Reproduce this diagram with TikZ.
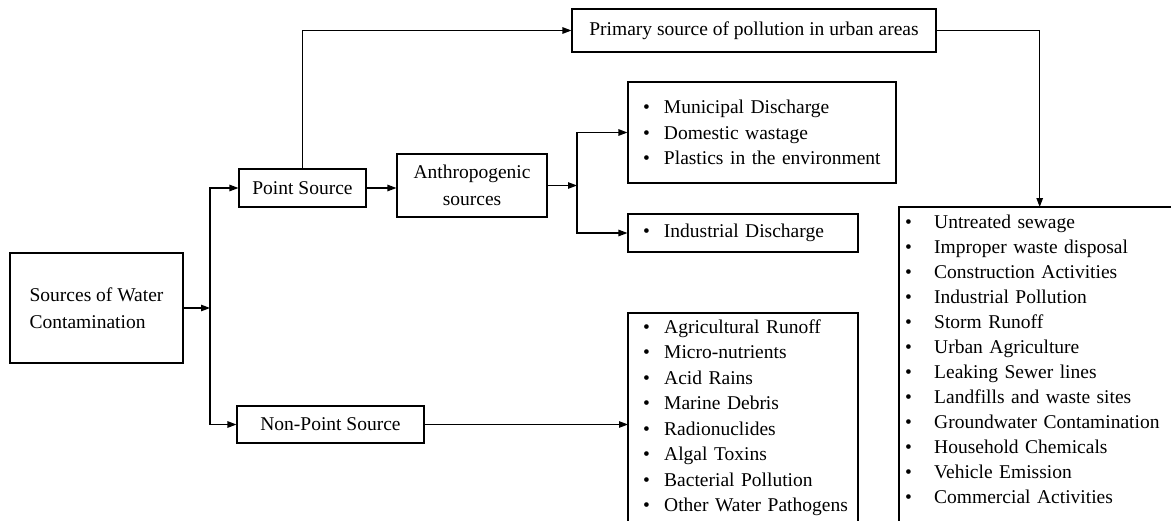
\documentclass[tikz,border=0pt]{standalone}
\usepackage{fontspec}
\setmainfont{Liberation Serif}
\usetikzlibrary{arrows.meta}
\newcommand{\txtsize}{\fontsize{19.5}{25.5}\selectfont}
\newcommand{\blt}[2][21pt]{\makebox[#1][l]{\textbullet}#2}
\tikzset{
    box/.style={draw, line width=1.1pt, inner sep=0pt, font=\txtsize},
    lst/.style={inner ysep=0pt, align=left, font=\txtsize},
    arr/.style={line width=1.1pt, -{Triangle[length=9pt,width=6.5pt]}}
}
\begin{document}
\begin{tikzpicture}[x=1pt,y=-1pt]
            \useasboundingbox (0,0) rectangle (1171,520);
            % left column
            \node[box, align=left, minimum width=173pt, minimum height=110pt] (src) at (96.5,308) {Sources of Water\\[1.5pt]Contamination};
            \node[box, minimum width=127pt, minimum height=38pt] (ps) at (302.5,188) {Point Source};
            \node[box, minimum width=187pt, minimum height=37pt] (nps) at (330.5,424.5) {Non-Point Source};
            \node[box, align=center, minimum width=150pt, minimum height=63pt] (anth) at (472,185.5) {Anthropogenic\\[1.5pt]sources};
            \node[box, minimum width=364pt, minimum height=43pt] (prim) at (754,30.5) {Primary source of pollution in urban areas};
            % lists
            \node[box, lst, text width=238pt, inner xsep=15pt, minimum height=101pt] (mun) at (762,132.5)
                {\blt{Municipal Discharge}\\\blt{Domestic wastage}\\\blt{Plastics in the environment}};
            \node[box, lst, text width=200pt, inner xsep=15pt, minimum height=38pt] (ind) at (743,233)
                {\blt{Industrial Discharge}};
            \node[lst, anchor=north west, text width=220pt, inner xsep=15pt, inner ysep=6.5pt] (nplist) at (628,313)
                {\blt{Agricultural Runoff}\\\blt{Micro-nutrients}\\\blt{Acid Rains}\\\blt{Marine Debris}\\
                 \blt{Radionuclides}\\\blt{Algal Toxins}\\\blt{Bacterial Pollution}\\\blt{Other Water Pathogens}};
            \draw[line width=1.1pt] (nplist.north west) rectangle ++(230,215);
            \node[lst, anchor=north west, text width=269pt, inner xsep=6pt, inner ysep=8pt,
                  font=\fontsize{19.5}{25}\selectfont] (urb) at (899,207)
                {\blt[29pt]{Untreated sewage}\\\blt[29pt]{Improper waste disposal}\\\blt[29pt]{Construction Activities}\\
                 \blt[29pt]{Industrial Pollution}\\\blt[29pt]{Storm Runoff}\\\blt[29pt]{Urban Agriculture}\\
                 \blt[29pt]{Leaking Sewer lines}\\\blt[29pt]{Landfills and waste sites}\\\blt[29pt]{Groundwater Contamination}\\
                 \blt[29pt]{Household Chemicals}\\\blt[29pt]{Vehicle Emission}\\\blt[29pt]{Commercial Activities}};
            \draw[line width=1.1pt] (urb.north west) rectangle ++(281,320);
            % splits
            \coordinate (j1) at (210,308);
            \coordinate (j2) at (577,185.5);
            % arrows
            \draw[arr] (src.east) -- (j1);
            \draw[arr] (j1) |- (ps.west);
            \draw[arr] (j1) |- (nps.west);
            \draw[arr] (ps.north) |- (prim.west);
            \draw[arr] (ps.east) -- (anth.west |- ps.east);
            \draw[arr] (anth.east) -- (j2);
            \draw[arr] (j2) |- (mun.west);
            \draw[arr] (j2) |- (ind.west);
            \draw[arr] (nps.east) -- (nplist.west |- nps.east);
            \draw[arr] (prim.east) -| (urb.north);
\end{tikzpicture}
\end{document}
